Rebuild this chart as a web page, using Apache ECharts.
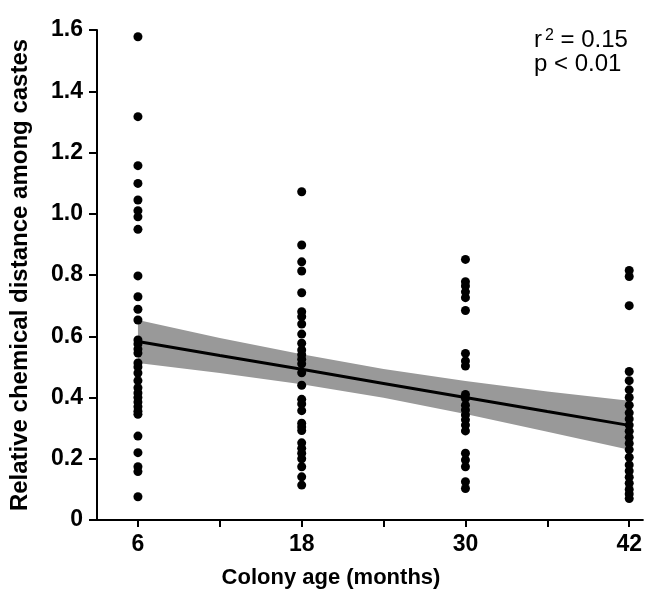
<!DOCTYPE html>
<html>
<head>
<meta charset="utf-8">
<script src="https://cdn.jsdelivr.net/npm/echarts@6/dist/echarts.min.js"></script>
<style>html,body{margin:0;padding:0;background:#fff;}#c{width:645px;height:594px;}</style>
</head>
<body>
<div id="c"></div>
<script>
// ---- data ----
const ages = [6, 18, 30, 42];
const age6 = [1.578, 1.317, 1.157, 1.099, 1.045, 1.01, 0.99, 0.949, 0.797, 0.729, 0.688, 0.653, 0.588, 0.575, 0.558, 0.545, 0.513, 0.50, 0.48, 0.455, 0.432, 0.415, 0.40, 0.385, 0.37, 0.355, 0.345, 0.274, 0.22, 0.174, 0.158, 0.076];
const age18 = [1.072, 0.898, 0.843, 0.813, 0.742, 0.680, 0.664, 0.640, 0.607, 0.577, 0.555, 0.540, 0.525, 0.510, 0.481, 0.440, 0.394, 0.379, 0.357, 0.316, 0.304, 0.292, 0.252, 0.234, 0.218, 0.200, 0.174, 0.141, 0.114];
const age30 = [0.851, 0.778, 0.764, 0.745, 0.726, 0.684, 0.544, 0.519, 0.503, 0.41, 0.397, 0.375, 0.359, 0.343, 0.327, 0.31, 0.291, 0.218, 0.196, 0.174, 0.125, 0.103];
const age42 = [0.815, 0.795, 0.700, 0.485, 0.455, 0.425, 0.40, 0.375, 0.35, 0.33, 0.31, 0.29, 0.27, 0.25, 0.23, 0.205, 0.18, 0.16, 0.14, 0.12, 0.10, 0.085, 0.07];
const fitX = [6, 12, 18, 24, 30, 36, 42];
const fitY = [0.583, 0.537, 0.492, 0.446, 0.400, 0.354, 0.309];
const bandUpper = [0.653, 0.594, 0.541, 0.493, 0.454, 0.420, 0.389];
const bandLower = [0.513, 0.480, 0.443, 0.399, 0.346, 0.288, 0.229];
const xTicks = [6, 12, 18, 24, 30, 36, 42];
const xLabels = [6, 18, 30, 42];

const columns = [age6, age18, age30, age42];
const scatterData = [];
columns.forEach((col, i) => col.forEach(v => scatterData.push([ages[i], v])));

const FONT = '"Liberation Sans", Arial, Helvetica, sans-serif';
const chart = echarts.init(document.getElementById('c'), null, {renderer: 'canvas'});
const axisFont = {fontFamily: FONT, fontWeight: 'bold', fontSize: 23, color: '#000'};
chart.setOption({
  animation: false,
  backgroundColor: '#fff',
  grid: {left: 97, right: 0, top: 30, bottom: 74, containLabel: false},
  xAxis: {
    type: 'value', min: 3, max: 43,
    axisLine: {show: true, onZero: false, lineStyle: {color: '#000', width: 2}},
    axisTick: {show: true, length: 7, lineStyle: {color: '#000', width: 2}, customValues: xTicks},
    axisLabel: Object.assign({margin: 13, customValues: xLabels}, axisFont),
    splitLine: {show: false}
  },
  yAxis: {
    type: 'value', min: 0, max: 1.6, interval: 0.2,
    name: 'Relative chemical distance among castes',
    nameLocation: 'middle', nameGap: 65,
    nameTextStyle: {fontFamily: FONT, fontWeight: 'bold', fontSize: 24, color: '#000'},
    axisLine: {show: true, lineStyle: {color: '#000', width: 2}},
    axisTick: {show: true, length: 8, lineStyle: {color: '#000', width: 2}},
    axisLabel: Object.assign({margin: 14, formatter: v => v === 0 ? '0' : v.toFixed(1)}, axisFont),
    splitLine: {show: false}
  },
  graphic: [
    {type: 'text', x: 331, y: 578, style: {text: 'Colony age (months)', align: 'center', verticalAlign: 'middle', font: 'bold 22px "Liberation Sans", Arial, sans-serif', fill: '#000'}},
    {type: 'text', x: 534, y: 40, style: {text: '{a|r}{s|2}{a| = 0.15}', align: 'left', verticalAlign: 'middle',
      rich: {a: {fontFamily: FONT, fontSize: 24, color: '#000'}, s: {fontFamily: FONT, fontSize: 16, color: '#000', verticalAlign: 'top', padding: [0, 0, 9, 3]}}}},
    {type: 'text', x: 534, y: 64, style: {text: 'p < 0.01', align: 'left', verticalAlign: 'middle', font: '24px "Liberation Sans", Arial, sans-serif', fill: '#000'}}
  ],
  series: [
    {type: 'custom', silent: true, z: 1, data: [0],
     renderItem: function (params, api) {
       const pts = [];
       fitX.forEach((x, i) => pts.push(api.coord([x, bandUpper[i]])));
       for (let i = fitX.length - 1; i >= 0; i--) pts.push(api.coord([fitX[i], bandLower[i]]));
       return {type: 'polygon', shape: {points: pts}, style: {fill: '#999999'}};
     }},
    {type: 'line', symbol: 'none', silent: true, z: 3,
     lineStyle: {color: '#000', width: 3}, data: fitX.map((x, i) => [x, fitY[i]])},
    {type: 'scatter', symbol: 'circle', symbolSize: 9, z: 4,
     itemStyle: {color: '#000', opacity: 1}, data: scatterData}
  ]
});
</script>
</body>
</html>
